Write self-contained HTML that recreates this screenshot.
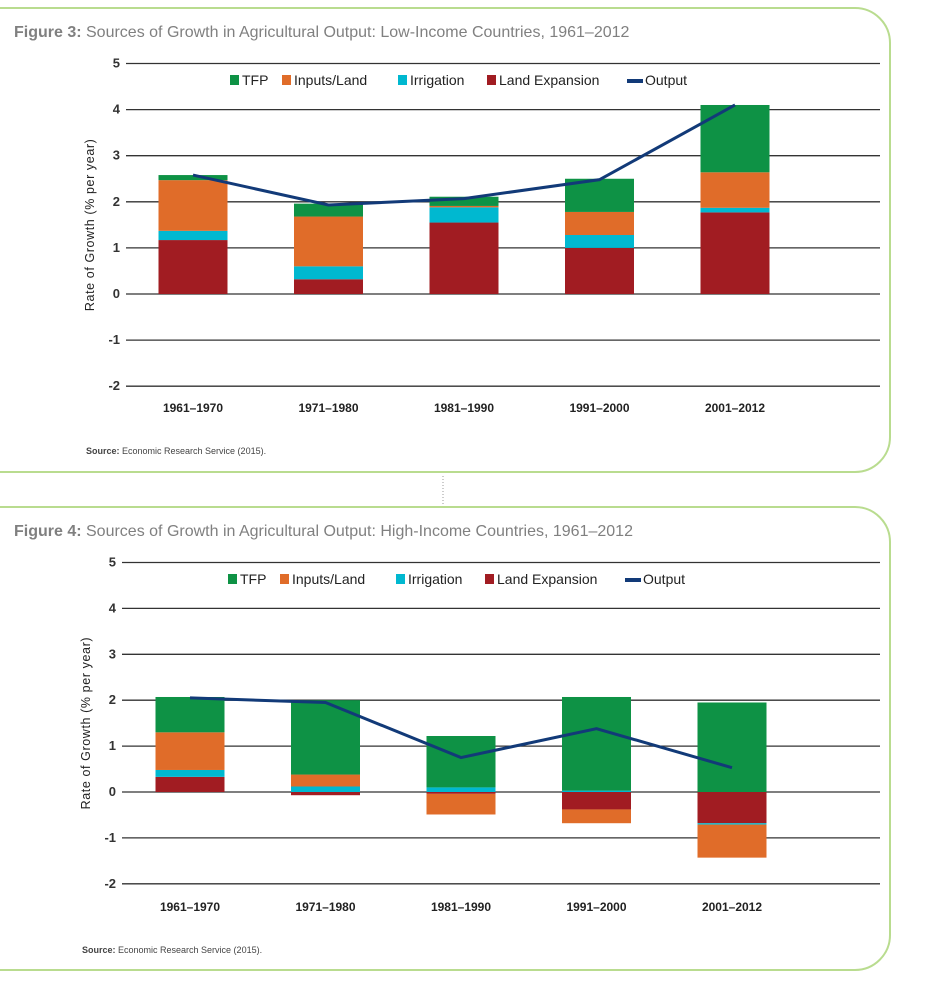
<!DOCTYPE html>
<html><head><meta charset="utf-8"><style>
body{margin:0;background:#fff;width:938px;height:993px;overflow:hidden;font-family:"Liberation Sans",Arial,sans-serif}
</style></head><body>
<svg id="svg" width="938" height="993" viewBox="0 0 938 993" xmlns="http://www.w3.org/2000/svg">
<path d="M0,8 H855 A35,35 0 0 1 890,43 V437 A35,35 0 0 1 855,472 H0" fill="none" stroke="#b9dc8f" stroke-width="2"/>
<path d="M0,507 H855 A35,35 0 0 1 890,542 V935 A35,35 0 0 1 855,970 H0" fill="none" stroke="#b9dc8f" stroke-width="2"/>
<line x1="443" y1="476" x2="443" y2="506" stroke="#999" stroke-dasharray="1,2"/>
<text x="14" y="37" font-size="16" fill="#808080"><tspan font-weight="bold">Figure 3:</tspan> Sources of Growth in Agricultural Output: Low-Income Countries, 1961–2012</text>
<text x="14" y="536" font-size="16" fill="#808080"><tspan font-weight="bold">Figure 4:</tspan> Sources of Growth in Agricultural Output: High-Income Countries, 1961–2012</text>
<text x="86" y="454" font-size="9" fill="#444"><tspan font-weight="bold">Source:</tspan> Economic Research Service (2015).</text>
<text x="82" y="953" font-size="9" fill="#444"><tspan font-weight="bold">Source:</tspan> Economic Research Service (2015).</text>
</svg>
<script>
const categories = ["1961–1970","1971–1980","1981–1990","1991–2000","2001–2012"];
const tickValues = [5,4,3,2,1,0,-1,-2];
const seriesNames = ["TFP","Inputs/Land","Irrigation","Land Expansion","Output"];
// Figure 3: low-income
const lowLand = [1.17,0.32,1.55,1.0,1.77];
const lowIrr = [0.2,0.28,0.33,0.28,0.1];
const lowInputs = [1.1,1.08,0.03,0.5,0.77];
const lowTfp = [0.11,0.28,0.2,0.72,1.46];
const lowOutput = [2.58,1.93,2.07,2.48,4.1];
// Figure 4: high-income
const highLand = [0.33,-0.07,-0.04,-0.38,-0.68];
const highIrr = [0.15,0.12,0.1,0.03,-0.03];
const highInputs = [0.82,0.26,-0.45,-0.3,-0.72];
const highTfp = [0.77,1.62,1.12,2.04,1.95];
const highOutput = [2.05,1.95,0.75,1.38,0.53];

const NS="http://www.w3.org/2000/svg";
const svg=document.getElementById('svg');
const colors={tfp:"#0e9245",inputs:"#e06c29",irr:"#00b8d0",land:"#a11c22",out:"#123a78"};
function mk(tag,attrs,parent){const e=document.createElementNS(NS,tag);for(const k in attrs)e.setAttribute(k,attrs[k]);(parent||svg).appendChild(e);return e;}

function drawChart(prefix,cfg,land,irr,inputs,tfp,output){
  const g=mk('g',{});
  
  
  const y=v=>cfg.y0-v*cfg.unit;
  const x=i=>cfg.x0+i*cfg.step;
  tickValues.forEach(t=>{
    const l=mk('line',{x1:cfg.gx1,x2:cfg.gx2,y1:y(t),y2:y(t),stroke:"#333","stroke-width":1.3},g);
    
    
    const tx=mk('text',{x:cfg.gx1-6,y:y(t)+4,"font-size":13,"font-weight":"bold","text-anchor":"end",fill:"#333"},g);
    tx.textContent=t;
    
    
  });
  const yt=mk('text',{x:0,y:0,"font-size":12.5,"text-anchor":"middle",fill:"#222","letter-spacing":"0.6",transform:`translate(${cfg.gx1-32},${y(1.5)}) rotate(-90)`},g);
  yt.textContent="Rate of Growth (% per year)";
  
  
  const bw=69;
  categories.forEach((c,i)=>{
    let pos=0,neg=0;
    [[land,'land'],[irr,'irr'],[inputs,'inputs'],[tfp,'tfp']].forEach(([arr,key])=>{
      const v=arr[i];let top,bot;
      if(v>=0){bot=pos;top=pos+v;pos=top;}else{top=neg;bot=neg+v;neg=bot;}
      const r=mk('rect',{x:x(i)-bw/2,y:y(top),width:bw,height:Math.max(0,y(bot)-y(top)),fill:colors[key]},g);
      
      
    });
    const lb=mk('text',{x:x(i),y:cfg.labelY,"font-size":12,"font-weight":"bold","text-anchor":"middle",fill:"#222"},g);
    lb.textContent=c;
    
    
  });
  const pts=output.map((v,i)=>x(i)+","+y(v)).join(" ");
  const pl=mk('polyline',{points:pts,fill:"none",stroke:colors.out,"stroke-width":3},g);
  
  
  const lg=mk('g',{},g);
  
  
  const lx=cfg.legX, ly=cfg.legY;
  const entries=[["TFP",colors.tfp,0],["Inputs/Land",colors.inputs,52],["Irrigation",colors.irr,168],["Land Expansion",colors.land,257],["Output",colors.out,397]];
  entries.forEach(([n,c,off])=>{
    if(n==="Output"){mk('rect',{x:lx+off,y:ly-6,width:16,height:4,fill:c},lg);}
    else mk('rect',{x:lx+off,y:ly-10,width:9,height:10,fill:c},lg);
    const t=mk('text',{x:lx+off+(n==="Output"?18:12),y:ly,"font-size":14,fill:"#222"},lg);
    t.textContent=n;
    
    
  });
}
drawChart('fig3',{y0:294,unit:46.1,x0:193,step:135.5,gx1:126,gx2:880,labelY:412,legX:230,legY:85},lowLand,lowIrr,lowInputs,lowTfp,lowOutput);
drawChart('fig4',{y0:792,unit:45.9,x0:190,step:135.5,gx1:122,gx2:880,labelY:911,legX:228,legY:584},highLand,highIrr,highInputs,highTfp,highOutput);
</script>
</body></html>
